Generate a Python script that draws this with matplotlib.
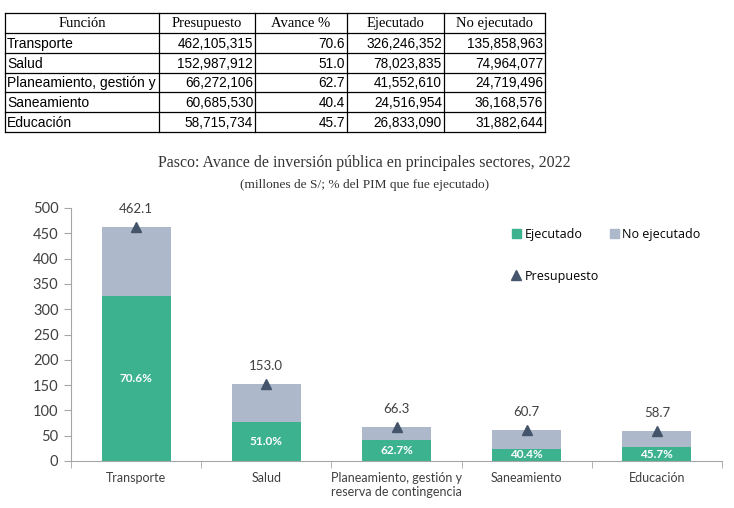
import numpy as np
import matplotlib.pyplot as plt
from matplotlib.lines import Line2D
from matplotlib.patches import Patch, Rectangle

# table data (first column is cut by the cell border in the original)
funciones = ['Transporte', 'Salud', 'Planeamiento, gestión y', 'Saneamiento', 'Educación']
presupuesto = [462105315, 152987912, 66272106, 60685530, 58715734]
avance = [70.6, 51.0, 62.7, 40.4, 45.7]
ejecutado = [326246352, 78023835, 41552610, 24516954, 26833090]
no_ejecutado = [135858963, 74964077, 24719496, 36168576, 31882644]
headers = ['Función', 'Presupuesto', 'Avance %', 'Ejecutado', 'No ejecutado']

# chart labels
categorias = ['Transporte', 'Salud', 'Planeamiento, gestión y\nreserva de contingencia',
              'Saneamiento', 'Educación']

verde = '#3DB28F'
gris = '#ADB9CA'
oscuro = '#44546A'

W, H = 734, 508
fig = plt.figure(figsize=(W / 100, H / 100), dpi=100)

# ---- table drawn in pixel coords ----
tab = fig.add_axes([0, 0, 1, 1])
tab.set_xlim(0, W)
tab.set_ylim(H, 0)
tab.axis('off')
cols = [5, 159, 255, 347, 444, 545]
top, bot = 13, 132
rows = np.linspace(top, bot, 7)
for x in cols:
    tab.plot([x, x], [top, bot], color='black', lw=0.9)
for y in rows:
    tab.plot([cols[0], cols[-1]], [y, y], color='black', lw=0.9)
for j, h in enumerate(headers):
    tab.text((cols[j] + cols[j + 1]) / 2, (rows[0] + rows[1]) / 2 + 1, h,
             family='Liberation Serif', fontsize=10.5, ha='center', va='center')
for i in range(5):
    yc = (rows[i + 1] + rows[i + 2]) / 2 + 1
    t = tab.text(cols[0] + 2, yc, funciones[i], family='Liberation Sans',
                 fontsize=10, ha='left', va='center')
    clip = Rectangle((cols[0], rows[i + 1]), cols[1] - cols[0] - 1, rows[i + 2] - rows[i + 1],
                     transform=tab.transData, facecolor='none', edgecolor='none')
    tab.add_patch(clip)
    t.set_clip_path(clip)
    t.set_clip_on(True)
    vals = ['{:,}'.format(presupuesto[i]), '{:.1f}'.format(avance[i]),
            '{:,}'.format(ejecutado[i]), '{:,}'.format(no_ejecutado[i])]
    for j, v in enumerate(vals):
        tab.text(cols[j + 2] - 2, yc, v, family='Liberation Sans',
                 fontsize=9.8, ha='right', va='center')

# ---- titles ----
fig.text(0.497, 1 - 163 / H, 'Pasco: Avance de inversión pública en principales sectores, 2022',
         family='Liberation Serif', fontsize=11.4, ha='center', va='center', color='#333333')
fig.text(0.497, 1 - 185 / H, '(millones de S/; % del PIM que fue ejecutado)',
         family='Liberation Serif', fontsize=9.6, ha='center', va='center', color='#333333')

# ---- chart ----
ax = fig.add_axes([71 / W, 47 / H, 651 / W, 253 / H])
x = np.arange(len(categorias))
pres_m = np.array(presupuesto) / 1e6
ejec_m = np.array(ejecutado) / 1e6
noej_m = np.array(no_ejecutado) / 1e6

ax.bar(x, ejec_m, width=0.53, color=verde, label='Ejecutado', zorder=2)
ax.bar(x, noej_m, width=0.53, bottom=ejec_m, color=gris, label='No ejecutado', zorder=2)
ax.plot(x, pres_m, linestyle='none', marker='^', color=oscuro, markersize=7, zorder=3)

for i in range(len(x)):
    ax.annotate('{:.1f}'.format(pres_m[i]), (x[i], pres_m[i]), xytext=(0, 13),
                textcoords='offset points', ha='center', va='center',
                family='Lato', fontsize=9.5, color='#404040')
    ax.text(x[i], ejec_m[i] / 2, '{:.1f}%'.format(avance[i]), ha='center', va='center',
            family='Lato', fontsize=8.5, color='white', fontweight='bold')

ax.set_xlim(-0.5, len(x) - 0.5)
ax.set_ylim(0, 500)
ax.set_yticks(np.arange(0, 501, 50))
ax.set_xticks(x)
ax.set_xticklabels(categorias, family='Lato', fontsize=9, color='#404040')
ax.set_xticks(np.arange(-0.5, len(x), 1), minor=True)
ax.tick_params(axis='x', which='major', length=0, pad=8)
ax.tick_params(axis='x', which='minor', length=5, color='#A6A6A6', direction='out')
ax.tick_params(axis='y', length=5, color='#A6A6A6', labelsize=10.5, labelcolor='#404040', pad=4)
for lab in ax.get_yticklabels():
    lab.set_family('Lato')
for s in ['top', 'right']:
    ax.spines[s].set_visible(False)
ax.spines['left'].set_color('#A6A6A6')
ax.spines['bottom'].set_color('#A6A6A6')

leg1 = ax.legend(handles=[Patch(color=verde, label='Ejecutado'), Patch(color=gris, label='No ejecutado')],
                 loc='center left', bbox_to_anchor=(0.66, 0.897), ncol=2, frameon=False,
                 handlelength=0.7, handleheight=0.7, handletextpad=0.3, columnspacing=2.2,
                 prop={'family': 'Open Sans', 'size': 9})
ax.add_artist(leg1)
ax.legend(handles=[Line2D([], [], linestyle='none', marker='^', color=oscuro, markersize=7,
                          label='Presupuesto')],
          loc='center left', bbox_to_anchor=(0.66, 0.73), frameon=False,
          handlelength=0.7, handletextpad=0.3, prop={'family': 'Open Sans', 'size': 9})

plt.savefig('out.png', dpi=100)
